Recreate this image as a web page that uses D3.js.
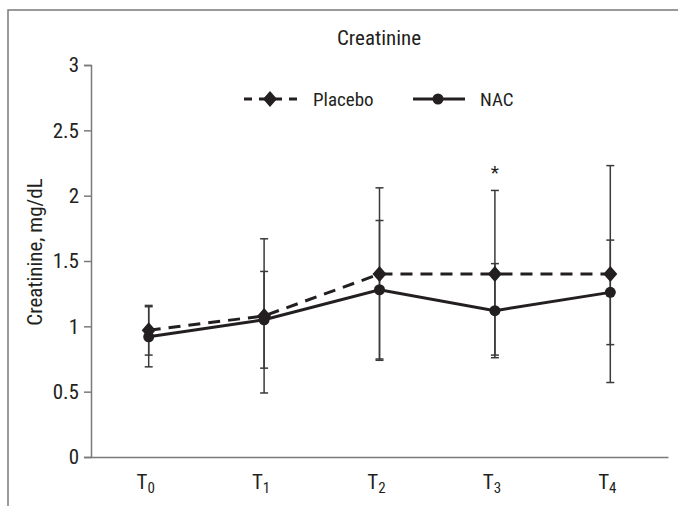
<!DOCTYPE html>
<html>
<head>
<meta charset="utf-8">
<script src="https://cdn.jsdelivr.net/npm/d3@7"></script>
<style>
  html, body { margin: 0; padding: 0; background: #fff; }
  svg text { font-family: "Liberation Sans Narrow", "Roboto Condensed", "DejaVu Sans Condensed", "Arial Narrow", sans-serif; fill: #231f20; }
</style>
</head>
<body>
<svg id="chart" width="678" height="506"></svg>
<script>
const categories = ["0", "1", "2", "3", "4"];
const yTicks = [0, 0.5, 1, 1.5, 2, 2.5, 3];
const placeboMean = [0.97, 1.08, 1.40, 1.40, 1.40];
const placeboUpper = [1.16, 1.67, 2.06, 2.04, 2.23];
const placeboLower = [0.78, 0.49, 0.74, 0.76, 0.57];
const nacMean = [0.92, 1.05, 1.28, 1.12, 1.26];
const nacUpper = [1.15, 1.42, 1.81, 1.48, 1.66];
const nacLower = [0.69, 0.68, 0.75, 0.78, 0.86];
const significant = [false, false, false, true, false];
const significanceY = 2.21;

const svg = d3.select("#chart");
const W = 678, H = 506;

// frame
svg.append("path")
  .attr("d", `M8,${H + 5} L8,10 L${W + 5},10`)
  .attr("fill", "none").attr("stroke", "#7a7a7a").attr("stroke-width", 1.5);

const x = d3.scaleBand().domain(categories).range([91, 668]);
const y = d3.scaleLinear().domain([0, 3]).range([457, 65]);
const cx = d => x(d) + x.bandwidth() / 2;

// y axis
const yAxis = svg.append("g").attr("transform", "translate(91,0)")
  .call(d3.axisLeft(y).tickValues(yTicks).tickSize(7).tickPadding(5).tickFormat(d3.format("")));
yAxis.select(".domain").attr("stroke", "#7a7a7a").attr("stroke-width", 1.5);
yAxis.selectAll(".tick line").attr("stroke", "#7a7a7a").attr("stroke-width", 1.5);
yAxis.selectAll(".tick text").style("font-size", "21px").attr("fill", "#231f20");

// x axis
const xAxis = svg.append("g").attr("transform", "translate(0,457)")
  .call(d3.axisBottom(x).tickSize(0).tickFormat(""));
xAxis.select(".domain").attr("stroke", "#7a7a7a").attr("stroke-width", 1.5);
xAxis.selectAll(".tick").each(function(d) {
  const t = d3.select(this).append("text").attr("x", -3).attr("y", 32).attr("text-anchor", "middle")
    .style("font-size", "21px");
  t.append("tspan").text("T");
  t.append("tspan").attr("dy", 4).style("font-size", "15px").text(d);
});

// title
svg.append("text").attr("x", 379).attr("y", 45).attr("text-anchor", "middle")
  .style("font-size", "21px").text("Creatinine");

// y label
svg.append("text").attr("transform", "translate(42,252) rotate(-90)")
  .attr("text-anchor", "middle").style("font-size", "21px").text("Creatinine, mg/dL");

const ink = "#231f20";
const cap = 4;

function errorBars(means, lower, upper) {
  const g = svg.append("g");
  categories.forEach((c, i) => {
    g.append("line").attr("x1", cx(c)).attr("x2", cx(c))
      .attr("y1", y(upper[i])).attr("y2", y(lower[i]))
      .attr("stroke", "#3a3a3a").attr("stroke-width", 1.5);
    [upper[i], lower[i]].forEach(v => {
      g.append("line").attr("x1", cx(c) - cap).attr("x2", cx(c) + cap)
        .attr("y1", y(v)).attr("y2", y(v))
        .attr("stroke", "#3a3a3a").attr("stroke-width", 1.5);
    });
  });
}
errorBars(placeboMean, placeboLower, placeboUpper);
errorBars(nacMean, nacLower, nacUpper);

const line = d3.line().x((d, i) => cx(categories[i])).y(d => y(d));

svg.append("path").datum(placeboMean).attr("d", line)
  .attr("fill", "none").attr("stroke", ink).attr("stroke-width", 3).attr("stroke-dasharray", "12,8");
svg.append("path").datum(nacMean).attr("d", line)
  .attr("fill", "none").attr("stroke", ink).attr("stroke-width", 3);

const diamondPath = "M0,-8L7,0L0,8L-7,0Z";
svg.append("g").selectAll("path").data(placeboMean).join("path")
  .attr("d", diamondPath)
  .attr("transform", (d, i) => `translate(${cx(categories[i])},${y(d)})`)
  .attr("fill", ink);
svg.append("g").selectAll("circle").data(nacMean).join("circle")
  .attr("cx", (d, i) => cx(categories[i])).attr("cy", d => y(d)).attr("r", 5.5)
  .attr("fill", ink);

// significance
categories.forEach((c, i) => {
  if (significant[i]) {
    svg.append("text").attr("x", cx(c)).attr("y", y(significanceY) + 11)
      .attr("text-anchor", "middle").style("font-size", "19px").attr("fill", "#555").text("*");
  }
});

// legend
const lg = svg.append("g");
lg.append("line").attr("x1", 244).attr("x2", 297).attr("y1", 99).attr("y2", 99)
  .attr("stroke", ink).attr("stroke-width", 3).attr("stroke-dasharray", "8,7");
lg.append("path").attr("d", diamondPath).attr("transform", "translate(270,99)").attr("fill", ink);
lg.append("text").attr("x", 313).attr("y", 106).style("font-size", "19px").text("Placebo");
lg.append("line").attr("x1", 413).attr("x2", 465).attr("y1", 99).attr("y2", 99)
  .attr("stroke", ink).attr("stroke-width", 3);
lg.append("circle").attr("cx", 438).attr("cy", 99).attr("r", 5.5).attr("fill", ink);
lg.append("text").attr("x", 480).attr("y", 106).style("font-size", "19px").text("NAC");
</script>
</body>
</html>
